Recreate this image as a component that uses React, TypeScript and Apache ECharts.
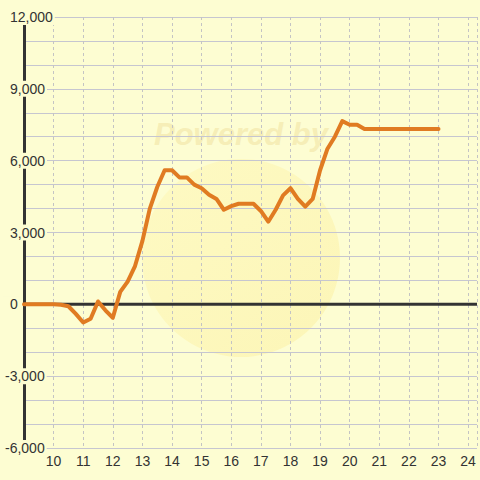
import React, { useEffect, useRef } from "react";
import * as echarts from "echarts";

// Time of day (hours) and running value
const hours: number[] = [
  9, 9.25, 9.5, 9.75, 10, 10.25, 10.5, 10.75, 11, 11.25, 11.5, 11.75,
  12, 12.25, 12.5, 12.75, 13, 13.25, 13.5, 13.75, 14, 14.25, 14.5, 14.75,
  15, 15.25, 15.5, 15.75, 16, 16.25, 16.5, 16.75, 17, 17.25, 17.5, 17.75,
  18, 18.25, 18.5, 18.75, 19, 19.25, 19.5, 19.75, 20, 20.25, 20.5, 20.75,
  21, 21.25, 21.5, 21.75, 22, 22.25, 22.5, 22.75, 23,
];
const values: number[] = [
  0, 0, 0, 0, 0, -20, -80, -400, -760, -600, 120, -250,
  -560, 520, 950, 1600, 2650, 4000, 4900, 5600, 5600, 5300, 5300, 5000,
  4850, 4580, 4400, 3950, 4100, 4200, 4200, 4200, 3900, 3450, 3950, 4550,
  4850, 4400, 4080, 4400, 5600, 6500, 7000, 7650, 7500, 7500, 7320, 7320,
  7320, 7320, 7320, 7320, 7320, 7320, 7320, 7320, 7320,
];
const xRange: number[] = [9, 24.3];
const yRange: number[] = [-6000, 12000];
const zeroLine: number[][] = [
  [xRange[0], 0],
  [xRange[1], 0],
];

const BG = "#fdfdd2";

export default function App() {
  const ref = useRef<HTMLDivElement>(null);
  useEffect(() => {
    if (!ref.current) return;
    const chart = echarts.init(ref.current, null, { renderer: "svg" });
    const data = hours.map((h, i) => [h, values[i]]);
    chart.setOption({
      animation: false,
      backgroundColor: BG,
      textStyle: { fontFamily: "'Liberation Sans', Arial, sans-serif" },
      grid: { left: 21, right: 0, top: 17, bottom: 32 },
      graphic: [
        {
          type: "circle",
          z: -10,
          silent: true,
          shape: { cx: 241, cy: 258, r: 99 },
          style: {
            fill: new echarts.graphic.LinearGradient(0, 0, 1, 1, [
              { offset: 0, color: "rgba(255,242,160,0.3)" },
              { offset: 1, color: "rgba(250,228,120,0.3)" },
            ]),
          },
        },
        {
          type: "text",
          z: -10,
          silent: true,
          x: 241,
          y: 134,
          style: {
            text: "Powered by",
            fill: "rgba(235,215,140,0.4)",
            font: "italic bold 31px 'Liberation Sans', Arial, sans-serif",
            textAlign: "center",
            textVerticalAlign: "middle",
          },
        },
      ],
      xAxis: {
        type: "value",
        min: xRange[0],
        max: xRange[1],
        interval: 1,
        axisLine: { show: false },
        axisTick: { show: false },
        splitLine: {
          show: true,
          lineStyle: { color: "#c4c4c4", type: [3, 3], width: 1 },
        },
        axisLabel: {
          color: "#333",
          fontSize: 14,
          margin: 6,
          formatter: (v: number) =>
            v === xRange[0] || Math.abs(v - Math.round(v)) > 1e-6 ? "" : String(v),
        },
      },
      yAxis: {
        type: "value",
        min: yRange[0],
        max: yRange[1],
        interval: 3000,
        axisLine: {
          show: true,
          onZero: false,
          lineStyle: { color: "#333", width: 3 },
        },
        axisTick: { show: false },
        minorTick: { show: false, splitNumber: 3 },
        splitLine: { show: true, lineStyle: { color: "#c6c6d0", width: 1 } },
        minorSplitLine: { show: true, lineStyle: { color: "#c6c6d0", width: 1 } },
        axisLabel: {
          align: "left",
          margin: 21,
          backgroundColor: BG,
          padding: [1, 2, 1, 2],
          formatter: (v: number) => {
            const s = Math.abs(v).toLocaleString("en-US");
            return v < 0 ? `{v|-${s}}` : `{s| }{v|${s}}`;
          },
          rich: {
            v: { color: "#333", fontSize: 14 },
            s: { width: 5, fontSize: 14 },
          },
        },
      },
      series: [
        {
          type: "line",
          data: zeroLine,
          z: 1,
          symbol: "none",
          silent: true,
          lineStyle: { color: "#333", width: 3 },
        },
        {
          type: "line",
          data,
          z: 3,
          symbol: "none",
          lineStyle: { color: "#e07b22", width: 4, cap: "round", join: "round" },
        },
      ],
    });
    return () => chart.dispose();
  }, []);
  return (
    <div
      ref={ref}
      style={{ position: "fixed", left: 0, top: 0, width: 480, height: 480 }}
    />
  );
}
